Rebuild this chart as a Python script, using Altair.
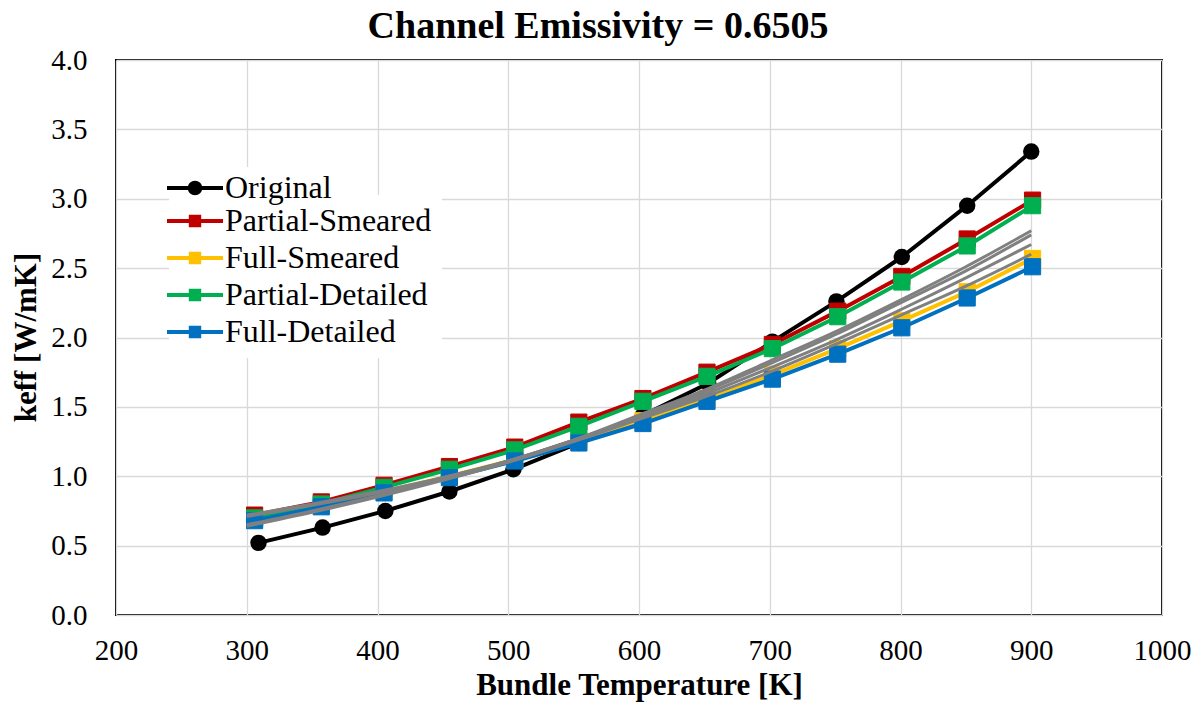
import altair as alt
import pandas as pd

# ---------------- data ----------------
T_orig = [309, 358, 406, 455, 504, 554, 603, 653, 702, 751, 801, 851, 900]
T_sq = [306, 357, 405, 455, 505, 554, 603, 652, 702, 752, 801, 851, 901]

original = [0.52, 0.63, 0.75, 0.89, 1.05, 1.24, 1.44, 1.67, 1.97, 2.26, 2.58, 2.95, 3.34]
partial_smeared = [0.72, 0.815, 0.935, 1.07, 1.21, 1.39, 1.56, 1.75, 1.95, 2.19, 2.44, 2.71, 2.99]
full_smeared = [0.69, 0.79, 0.89, 1.00, 1.12, 1.26, 1.40, 1.56, 1.73, 1.92, 2.12, 2.33, 2.57]
partial_detailed = [0.70, 0.80, 0.92, 1.05, 1.19, 1.36, 1.54, 1.72, 1.92, 2.15, 2.40, 2.66, 2.95]
full_detailed = [0.68, 0.78, 0.88, 0.99, 1.11, 1.24, 1.38, 1.54, 1.70, 1.88, 2.07, 2.285, 2.51]

T_fit = [300, 350, 400, 450, 500, 550, 600, 650, 700, 750, 800, 850, 900]
fit_1 = [0.72, 0.80, 0.89, 0.99, 1.11, 1.26, 1.44, 1.62, 1.83, 2.04, 2.27, 2.51, 2.77]
fit_2 = [0.71, 0.79, 0.88, 0.99, 1.11, 1.26, 1.43, 1.61, 1.81, 2.02, 2.25, 2.48, 2.74]
fit_3 = [0.65, 0.75, 0.86, 0.98, 1.11, 1.26, 1.42, 1.59, 1.78, 1.98, 2.20, 2.43, 2.67]
fit_4 = [0.64, 0.74, 0.85, 0.97, 1.10, 1.25, 1.41, 1.57, 1.75, 1.95, 2.16, 2.37, 2.60]

square_names = ["Partial-Smeared", "Full-Smeared", "Partial-Detailed", "Full-Detailed"]
square_values = [partial_smeared, full_smeared, partial_detailed, full_detailed]
square_colors = ["#C00000", "#FFC000", "#00B050", "#0070C0"]

x_ticks = [200, 300, 400, 500, 600, 700, 800, 900, 1000]
y_ticks = [0.0, 0.5, 1.0, 1.5, 2.0, 2.5, 3.0, 3.5, 4.0]

FONT = "Liberation Serif"

# ---------------- tables ----------------
df_orig = pd.DataFrame({"T": T_orig, "k": original, "series": "Original"})
sq_frames = [pd.DataFrame({"T": T_sq, "k": v, "series": n}) for n, v in zip(square_names, square_values)]
df_fit = pd.concat(
    [pd.DataFrame({"T": T_fit, "k": v, "fit": f"fit{i+1}"}) for i, v in enumerate([fit_1, fit_2, fit_3, fit_4])],
    ignore_index=True,
)

x_enc = alt.X(
    "T:Q",
    scale=alt.Scale(domain=[200, 1000], nice=False, zero=False),
    axis=alt.Axis(
        values=x_ticks,
        format="d",
        title="Bundle Temperature [K]",
        labelPadding=21,
        labelFlush=False,
        titleBaseline="alphabetic",
        titleY=79,
    ),
)
y_enc = alt.Y(
    "k:Q",
    scale=alt.Scale(domain=[0, 4], nice=False),
    axis=alt.Axis(
        values=y_ticks,
        format=".1f",
        title="keff [W/mK]",
        labelPadding=29,
        labelFlush=False,
        titleX=-74,
        titleY=277,
        titleAngle=-90,
        titleBaseline="bottom",
        titleAlign="center",
    ),
)

legend_common = dict(
    orient="none",
    fillColor="white",
    labelFont=FONT,
    labelFontSize=32,
    labelColor="black",
    labelLimit=0,
    title=None,
    symbolSize=784,
    symbolStrokeWidth=4,
    labelOffset=14,
)

path_circle = "M-2,0H2M0.38,0A0.38,0.38 0 1,1 -0.38,0A0.38,0.38 0 1,1 0.38,0Z"
path_square = "M-2,0H2M-0.3,-0.3H0.3V0.3H-0.3Z"

legend_orig = alt.Legend(
    symbolType=path_circle,
    symbolFillColor="black",
    symbolStrokeColor="black",
    legendX=58,
    legendY=107,
    padding=5,
    zindex=2,
    **legend_common,
)
legend_sq = alt.Legend(
    symbolType=path_square,
    legendX=53,
    legendY=135,
    padding=10,
    rowPadding=5,
    zindex=1,
    **legend_common,
)

layers = []

# Original: line then circle markers
layers.append(
    alt.Chart(df_orig).mark_line(strokeWidth=4, color="#000000").encode(x=x_enc, y=y_enc)
)
layers.append(
    alt.Chart(df_orig).mark_point(filled=True, shape="circle", size=270, opacity=1).encode(
        x=x_enc,
        y=y_enc,
        color=alt.Color("series:N", scale=alt.Scale(domain=["Original"], range=["#000000"]), legend=legend_orig),
    )
)

# the four square-marker series, each line followed by its markers
sq_scale = alt.Scale(domain=square_names, range=square_colors)
for d, c in zip(sq_frames, square_colors):
    layers.append(
        alt.Chart(d).mark_line(strokeWidth=4, color=c).encode(x=x_enc, y=y_enc)
    )
    layers.append(
        alt.Chart(d).mark_point(filled=True, shape="square", size=262, strokeWidth=1, opacity=1).encode(
            x=x_enc,
            y=y_enc,
            fill=alt.Fill("series:N", scale=sq_scale, legend=legend_sq),
            stroke=alt.Stroke("series:N", scale=sq_scale, legend=legend_sq),
        )
    )

# grey fitted curves on top
layers.append(
    alt.Chart(df_fit).mark_line(strokeWidth=3, color="#808080", interpolate="monotone").encode(
        x=x_enc, y=y_enc, detail="fit:N"
    )
)

chart = (
    alt.layer(*layers)
    .properties(
        width=1046,
        height=555,
        autosize="none",
        padding={"left": 116, "top": 60, "right": 37, "bottom": 87},
        title=alt.TitleParams(
            "Channel Emissivity = 0.6505",
            font=FONT,
            fontSize=38,
            fontWeight="bold",
            color="black",
            anchor="middle",
            dx=-41,
            offset=0,
        ),
        background="white",
    )
    .configure_view(stroke="black", strokeWidth=2)
    .configure_axis(
        labelFont=FONT,
        labelFontSize=29,
        labelColor="black",
        titleFont=FONT,
        titleFontSize=31,
        titleFontWeight="bold",
        titleColor="black",
        domain=False,
        ticks=False,
        tickSize=0,
        grid=True,
        gridColor="#D9D9D9",
        gridWidth=1.3,
    )
)

chart.save("out.html", embed_options={"renderer": "svg", "actions": False})
